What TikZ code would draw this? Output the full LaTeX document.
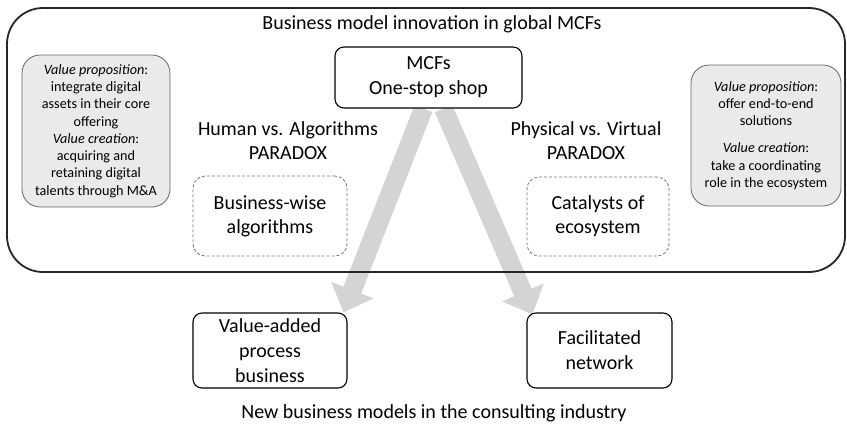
\documentclass[tikz,border=0pt]{standalone}
\usepackage{fontspec}
\setmainfont{Carlito}
\usepackage{tikz}
\usetikzlibrary{shapes,arrows.meta,positioning,calc,backgrounds}

\definecolor{arrowgray}{RGB}{212,212,212}
\definecolor{boxgray}{RGB}{234,234,234}

\begin{document}
\begin{tikzpicture}[
    x=1pt, y=-1pt,
    frame/.style = {rectangle, draw=black!85, line width=1.8pt, rounded corners=36pt, minimum width=838pt, minimum height=264pt},
    shop/.style = {rectangle, draw, line width=1.1pt, fill=white, rounded corners=9pt, align=center, font=\fontsize{20}{25}\selectfont},
    valuebox/.style = {rectangle, draw=black!60, line width=0.8pt, fill=boxgray, rounded corners=18pt, align=center, font=\fontsize{14.2}{17.3}\selectfont},
    idea/.style = {rectangle, draw=black!55, line width=0.8pt, dash pattern=on 3pt off 2pt, rounded corners=12pt, align=center, font=\fontsize{20}{24}\selectfont},
    paradox/.style = {align=center, font=\fontsize{20}{24}\selectfont},
    bigarrow/.style = {draw=arrowgray, line width=19pt, -{Triangle[width=44pt,length=24pt]}}
]
    \useasboundingbox (0,0) rectangle (847,426);

    % Outer frame
    \node[frame] (frame) at (426,140) {};
    \node[paradox] (title) at (432,24) {Business model innovation in global MCFs};

    % Centre
    \node[shop, minimum width=187pt, minimum height=61pt] (mcfs) at (428.5,77.5) {MCFs\\One-stop shop};

    % Value boxes
    \node[valuebox, minimum width=148pt, minimum height=152pt] (leftval) at (96,131)
        {\textit{Value proposition}:\\integrate digital\\assets in their core\\offering\\\textit{Value creation}:\\acquiring and\\retaining digital\\talents through M\&A};
    \node[valuebox, minimum width=150pt, minimum height=141pt] (rightval) at (766,135.5)
        {\textit{Value proposition}:\\offer end-to-end\\solutions\\[10pt]\textit{Value creation}:\\take a coordinating\\role in the ecosystem};

    % Paradoxes
    \node[paradox] (human) at (288,141) {Human vs. Algorithms\\PARADOX};
    \node[paradox] (physical) at (586,141) {Physical vs. Virtual\\PARADOX};
    \node[idea, minimum width=154pt, minimum height=80pt] (bwalg) at (270,216) {Business-wise\\algorithms};
    \node[idea, minimum width=142pt, minimum height=79pt] (catalyst) at (598,216.5) {Catalysts of\\ecosystem};

    % New business models
    \node[shop, minimum width=154pt, minimum height=75pt] (vab) at (270,350.5) {Value-added\\process\\business};
    \node[shop, minimum width=145pt, minimum height=75pt] (facnet) at (599.5,350.5) {Facilitated\\network};
    \node[paradox] (caption) at (434,413) {New business models in the consulting industry};

    % Arrows
    \begin{scope}[on background layer]
        \draw[bigarrow] ($(mcfs.south)+(-5,0)$) -- ($(vab.north east)+(-4,0)$);
        \draw[bigarrow] ($(mcfs.south)+(15,0)$) -- ($(facnet.north west)+(6,2)$);
    \end{scope}

\end{tikzpicture}
\end{document}
